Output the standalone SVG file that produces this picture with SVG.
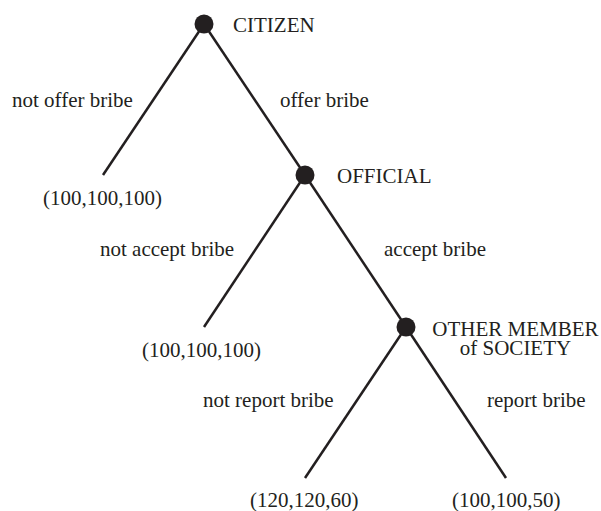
<svg xmlns="http://www.w3.org/2000/svg" width="601" height="511" viewBox="0 0 601 511">
<style>
text{font-family:"Liberation Serif","Times New Roman",serif;font-size:21px;fill:#231f20}
.e{stroke:#231f20;stroke-width:2.5;fill:none}
.n{fill:#231f20}
</style>
<rect width="601" height="511" fill="#fff"/>
<g id="connectors">
<line class="e" x1="204" y1="24" x2="103" y2="175"/>
<line class="e" x1="204" y1="24" x2="305" y2="175"/>
<line class="e" x1="305" y1="175" x2="204" y2="327"/>
<line class="e" x1="305" y1="175" x2="406" y2="327"/>
<line class="e" x1="406" y1="327" x2="305" y2="478"/>
<line class="e" x1="406" y1="327" x2="506" y2="478"/>
<text x="12" y="107">not offer bribe</text>
<text x="280" y="107">offer bribe</text>
<text x="100" y="256">not accept bribe</text>
<text x="384" y="256">accept bribe</text>
<text x="203" y="407">not report bribe</text>
<text x="487" y="407">report bribe</text>
</g>
<g id="citizen"><circle class="n" cx="204" cy="24" r="9.5"/><text x="233" y="32">CITIZEN</text></g>
<g id="official"><circle class="n" cx="305" cy="175" r="9.5"/><text x="337" y="183">OFFICIAL</text></g>
<g id="other"><circle class="n" cx="406" cy="327" r="9.5"/><text text-anchor="middle"><tspan x="515.5" y="336">OTHER MEMBER</tspan><tspan x="515.5" y="355">of SOCIETY</tspan></text></g>
<g id="leaf1"><text x="43" y="205">(100,100,100)</text></g>
<g id="leaf2"><text x="142" y="357">(100,100,100)</text></g>
<g id="leaf3"><text x="250" y="507">(120,120,60)</text></g>
<g id="leaf4"><text x="452" y="507">(100,100,50)</text></g>
</svg>
